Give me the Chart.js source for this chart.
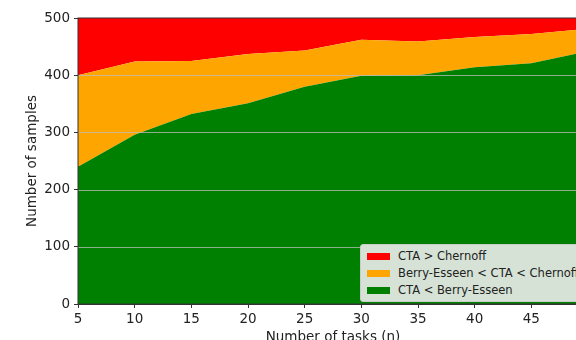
<!DOCTYPE html>
<html>
<head>
<meta charset="utf-8">
<script src="https://cdn.jsdelivr.net/npm/chart.js@4"></script>
<style>
  body { margin: 0; overflow: hidden; background: #fff; }
  #wrap { position: absolute; left: 0; top: 0; width: 640px; height: 352px; }
  #legend {
    position: absolute; left: 360px; top: 244px; width: 260px; height: 58px;
    background: rgb(214, 226, 214); border: 1px solid #ccc; border-radius: 3px;
    font-family: "DejaVu Sans", sans-serif; font-size: 11.5px; color: #222;
    box-sizing: border-box; padding-top: 3px;
  }
  .row { height: 17px; line-height: 17px; white-space: nowrap; }
  .sw { display: inline-block; width: 23px; height: 7px; margin: 0 8px 0 6px; vertical-align: middle; }
</style>
</head>
<body>
<div id="wrap">
  <canvas id="chart" width="640" height="352"></canvas>
  <div id="legend"></div>
</div>
<script>
const canvasRef = document.getElementById("chart");

const tasks = [5, 10, 15, 20, 25, 30, 35, 40, 45, 50];
// cumulative boundaries
const belowBerry = [240, 296, 332, 351, 380, 399, 400, 414, 421, 442];
const belowChernoff = [400, 424, 425, 437, 443, 462, 459, 467, 472, 481];
const total = [500, 500, 500, 500, 500, 500, 500, 500, 500, 500];

const labels = ["CTA < Berry-Esseen", "Berry-Esseen < CTA < Chernoff", "CTA > Chernoff"];
const colors = ["#008000", "#ffa500", "#ff0000"];

const layers = [
  belowBerry,
  belowChernoff.map((v, i) => v - belowBerry[i]),
  total.map((v, i) => v - belowChernoff[i]),
];

const yTicks = [0, 100, 200, 300, 400, 500];

const datasets = layers.map(function (layer, k) {
  return {
    label: labels[k],
    data: layer.map((v, i) => ({ x: tasks[i], y: v })),
    backgroundColor: colors[k],
    borderWidth: 0,
    pointRadius: 0,
    fill: k === 0 ? "origin" : "-1",
  };
});

// grid lines on top of the areas, plus top spine
const overGrid = {
  id: "overGrid",
  afterDatasetsDraw(chart) {
    const ctx = chart.ctx;
    const area = chart.chartArea;
    const y = chart.scales.y;
    ctx.save();
    ctx.strokeStyle = "rgba(190,190,190,0.75)";
    ctx.lineWidth = 1;
    yTicks.slice(1, -1).forEach(function (t) {
      const py = Math.round(y.getPixelForValue(t)) + 0.5;
      ctx.beginPath();
      ctx.moveTo(area.left, py);
      ctx.lineTo(area.right, py);
      ctx.stroke();
    });
    ctx.strokeStyle = "#333";
    ctx.strokeRect(area.left, area.top, area.right - area.left, area.bottom - area.top);
    ctx.restore();
  },
};

const font = { family: "DejaVu Sans", size: 13.5 };

new Chart(canvasRef, {
  type: "line",
  data: { datasets: datasets },
  options: {
    responsive: false,
    animation: false,
    layout: { padding: { left: 0, right: 52, top: 18, bottom: 0 } },
    plugins: { legend: { display: false }, tooltip: { enabled: false } },
    scales: {
      x: {
        type: "linear",
        min: 5,
        max: 50,
        ticks: { stepSize: 5, color: "#222", font: font, padding: 3, maxRotation: 0 },
        grid: { drawOnChartArea: false, tickLength: 4, tickColor: "#333" },
        border: { color: "#333" },
        title: {
          display: true,
          text: "Number of tasks (n)",
          color: "#222",
          font: font,
          padding: { top: 1, bottom: 6 },
        },
        afterFit(scale) { scale.height = 48; },
      },
      y: {
        stacked: true,
        min: 0,
        max: 500,
        ticks: { stepSize: 100, color: "#222", font: font, padding: 4 },
        grid: { drawOnChartArea: false, tickLength: 4, tickColor: "#333" },
        border: { color: "#333" },
        title: {
          display: true,
          text: "Number of samples",
          color: "#222",
          font: font,
          padding: { top: 24, bottom: 0 },
        },
        afterFit(scale) { scale.width = 78; },
      },
    },
  },
  plugins: [overGrid],
});

const legendBox = document.getElementById("legend");
[2, 1, 0].forEach(function (k) {
  const row = document.createElement("div");
  row.className = "row";
  row.innerHTML = `<span class="sw" style="background:${colors[k]}"></span>${labels[k].replace(/</g, "&lt;").replace(/>/g, "&gt;")}`;
  legendBox.appendChild(row);
});
</script>
</body>
</html>
